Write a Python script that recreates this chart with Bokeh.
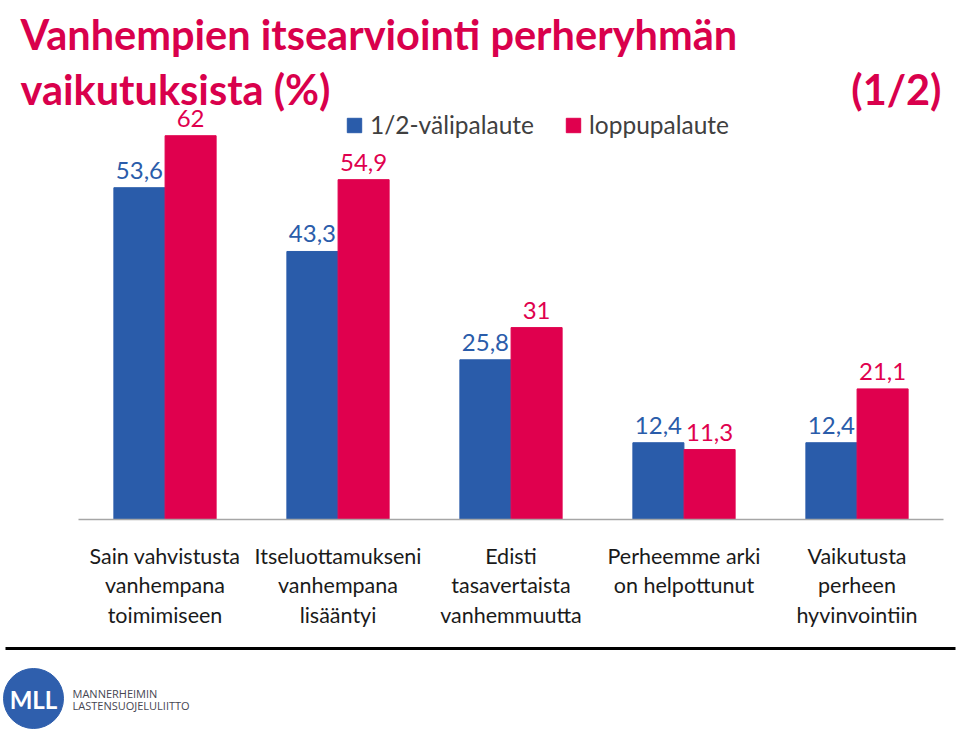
from bokeh.plotting import figure
from bokeh.models import Range1d, Legend, LegendItem, ColumnDataSource
from bokeh.embed import file_html
from bokeh.resources import INLINE
from bokeh.core.properties import value

# ---- data ----
categories = [
    "Sain vahvistusta\nvanhempana\ntoimimiseen",
    "Itseluottamukseni\nvanhempana\nlisääntyi",
    "Edisti\ntasavertaista\nvanhemmuutta",
    "Perheemme arki\non helpottunut",
    "Vaikutusta\nperheen\nhyvinvointiin",
]
interim = [53.6, 43.3, 25.8, 12.4, 12.4]
final = [62, 54.9, 31, 11.3, 21.1]
series_names = ["1/2-välipalaute", "loppupalaute"]
title_lines = ["Vanhempien itsearviointi perheryhmän", "vaikutuksista (%)"]
page_tag = "(1/2)"
logo_mark = "MLL"
logo_lines = ["MANNERHEIMIN", "LASTENSUOJELULIITTO"]

# ---- style / layout ----
BLUE = "#2A5CAA"
RED = "#E0004E"
TITLE_RED = "#D9004C"
FONT = "Lato"
W, H = 959, 732
LEFT, BAND, BASE, PXU = 78, 173, 519, 6.19   # pixel layout of the bar area
DODGE, BW = 0.148, 0.295


def fmt(v):
    return f"{v:g}".replace(".", ",")


idx = list(range(len(categories)))
src = ColumnDataSource(dict(
    idx=idx,
    xi=[i - DODGE for i in idx],
    xf=[i + DODGE for i in idx],
    cat=categories,
    interim=interim,
    final=final,
    interim_lbl=[fmt(v) for v in interim],
    final_lbl=[fmt(v) for v in final],
))

p = figure(width=W, height=H,
           x_range=Range1d(-LEFT / BAND - 0.5, (W - LEFT) / BAND - 0.5),
           y_range=Range1d(-(H - BASE) / PXU, BASE / PXU),
           min_border=0, output_backend="svg", toolbar_location=None,
           x_axis_location=None, y_axis_location=None, outline_line_color=None)
p.grid.visible = False
# pixel coordinate ranges for the page decorations
p.extra_x_ranges = {"px": Range1d(0, W)}
p.extra_y_ranges = {"px": Range1d(H, 0)}

# bars
r1 = p.vbar(x="xi", top="interim", width=BW, source=src, color=BLUE)
r2 = p.vbar(x="xf", top="final", width=BW, source=src, color=RED)

# value labels
p.text(x="xi", y="interim", text="interim_lbl", source=src,
       text_align="center", text_baseline="bottom", y_offset=-9,
       text_font=value(FONT), text_font_size="24px", text_color=BLUE)
p.text(x="xf", y="final", text="final_lbl", source=src,
       text_align="center", text_baseline="bottom", y_offset=-9,
       text_font=value(FONT), text_font_size="24px", text_color=RED)

# category axis baseline and labels
p.segment(x0=[-0.5], y0=[0], x1=[len(categories) - 0.5], y1=[0],
          line_color="#A6A6A6", line_width=1.5)
p.text(x="idx", y=0, text="cat", source=src, text_align="center", text_baseline="top",
       y_offset=23, text_font=value(FONT), text_font_size="21.5px",
       text_color="#1A1A1A", text_line_height=1.14)

# legend
legend = Legend(items=[LegendItem(label=series_names[0], renderers=[r1]),
                       LegendItem(label=series_names[1], renderers=[r2])],
                orientation="horizontal", location=(345, H - 139),
                border_line_color=None, background_fill_alpha=0, padding=0, margin=0,
                spacing=30, label_standoff=7, glyph_width=18, glyph_height=18,
                label_text_font=FONT, label_text_font_size="24.5px", label_text_color="#404040")
p.add_layout(legend)

# title
p.text(x=[20, 20], y=[33, 88], text=title_lines, x_range_name="px", y_range_name="px",
       text_font=value(FONT), text_font_style="bold", text_font_size="41.5px",
       text_color=TITLE_RED, text_baseline="alphabetic", text_align="left")
p.text(x=[941], y=[88], text=[page_tag], x_range_name="px", y_range_name="px",
       text_font=value(FONT), text_font_style="bold", text_font_size="41.5px",
       text_color=TITLE_RED, text_baseline="alphabetic", text_align="right")

# footer rule and logo
p.segment(x0=[5], y0=[648], x1=[955], y1=[648], x_range_name="px", y_range_name="px",
          line_width=3, line_color="black")
p.scatter(x=[33], y=[698], size=60, color="#2F5FAD", x_range_name="px", y_range_name="px")
p.text(x=[33], y=[699], text=[logo_mark], x_range_name="px", y_range_name="px",
       text_font=value(FONT), text_font_style="bold", text_font_size="24px",
       text_color="white", text_align="center", text_baseline="middle")
p.text(x=[72, 72], y=[693, 705], text=logo_lines, x_range_name="px", y_range_name="px",
       text_font=value("Open Sans"), text_font_size="11px", text_color="#464652",
       text_align="left", text_baseline="middle")

open("out.html", "w").write(file_html(p, INLINE))
